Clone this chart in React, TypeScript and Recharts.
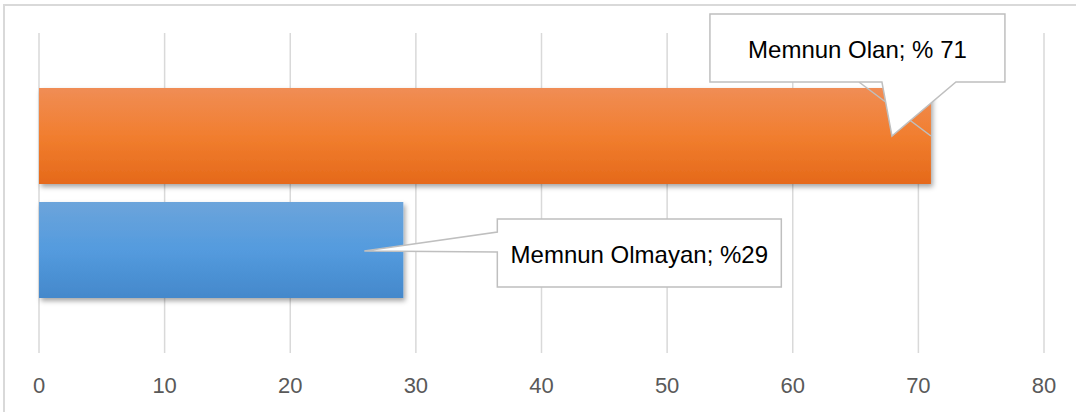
import React from 'react';
import { BarChart, Bar, XAxis, YAxis, CartesianGrid } from 'recharts';

const categories = ['Memnuniyet'];
const memnunOlan = [71];
const memnunOlmayan = [29];
const labelOlan = ['Memnun Olan; % 71'];
const labelOlmayan = ['Memnun Olmayan; %29'];
const xTicks = [0, 10, 20, 30, 40, 50, 60, 70, 80];

const data = categories.map((c, i) => ({
  name: c,
  olan: memnunOlan[i],
  olmayan: memnunOlmayan[i],
}));

const FONT = '"Liberation Sans", Arial, sans-serif';

const TopCallout = (props: any) => {
  const { x, y, width, index } = props;
  const X = x + width;
  const Y = y;
  const bx0 = X - 221, bx1 = X + 74, by0 = Y - 74, by1 = Y - 6;
  const p1 = X - 49, p2 = X + 25;
  const tx = X - 39, ty = Y + 48;
  const d = `M${bx0},${by0} H${bx1} V${by1} H${p2} L${tx},${ty} L${p1},${by1} H${bx0} Z`;
  return (
    <g>
      <line x1={X - 72} y1={by1} x2={X} y2={ty} stroke="#BFBFBF" strokeWidth={1.5} />
      <path d={d} fill="#FFFFFF" stroke="#BFBFBF" strokeWidth={1.5} />
      <text x={(bx0 + bx1) / 2} y={Y - 30} textAnchor="middle" fontFamily={FONT} fontSize={24} fill="#000">
        {labelOlan[index ?? 0]}
      </text>
    </g>
  );
};

const SideCallout = (props: any) => {
  const { x, y, width, height, index } = props;
  const X = x + width;
  const cy = y + height / 2;
  const bx0 = X + 94, bx1 = X + 378, by0 = cy - 31, by1 = cy + 37;
  const tx = X - 39, ty = cy + 1;
  const d = `M${bx0},${by0} H${bx1} V${by1} H${bx0} V${cy + 2} L${tx},${ty} L${bx0},${cy - 18} Z`;
  return (
    <g>
      <path d={d} fill="#FFFFFF" stroke="#BFBFBF" strokeWidth={1.5} />
      <text x={(bx0 + bx1) / 2} y={cy + 13} textAnchor="middle" fontFamily={FONT} fontSize={24} fill="#000">
        {labelOlmayan[index ?? 0]}
      </text>
    </g>
  );
};

export default function App() {
  return (
    <div style={{ position: 'fixed', left: 0, top: 0, width: 1076, height: 412, overflow: 'hidden', background: '#FFFFFF' }}>
      <div
        style={{
          position: 'absolute',
          left: 3,
          top: 4,
          width: 1200,
          height: 600,
          borderLeft: '2px solid #D9D9D9',
          borderTop: '2px solid #D9D9D9',
          boxSizing: 'border-box',
        }}
      />
      <div style={{ position: 'absolute', left: 0, top: 0 }}>
        <BarChart
          width={1076}
          height={412}
          data={data}
          layout="vertical"
          margin={{ top: 33, right: 32, bottom: 0, left: 39 }}
          barSize={96}
          barGap={18}
          barCategoryGap={0}
        >
          <defs>
            <linearGradient id="gOrange" x1="0" y1="0" x2="0" y2="1">
              <stop offset="0%" stopColor="#F08D55" />
              <stop offset="50%" stopColor="#F17E2F" />
              <stop offset="100%" stopColor="#E5691A" />
            </linearGradient>
            <linearGradient id="gBlue" x1="0" y1="0" x2="0" y2="1">
              <stop offset="0%" stopColor="#6CA4DB" />
              <stop offset="50%" stopColor="#549BDE" />
              <stop offset="100%" stopColor="#4488CB" />
            </linearGradient>
            <filter id="shadow" x="-5%" y="-20%" width="115%" height="150%">
              <feDropShadow dx="2" dy="3" stdDeviation="2.5" floodColor="#000" floodOpacity="0.35" />
            </filter>
          </defs>
          <CartesianGrid horizontal={false} stroke="#D9D9D9" strokeWidth={1.5} />
          <XAxis
            type="number"
            domain={[0, 80]}
            ticks={xTicks}
            tickLine={false}
            axisLine={false}
            tickSize={0}
            tickMargin={24}
            height={59}
            tick={{ fill: '#595959', fontSize: 22, fontFamily: FONT }}
            interval={0}
          />
          <YAxis type="category" dataKey="name" hide width={0} />
          <Bar
            dataKey="olan"
            name="Memnun Olan"
            fill="url(#gOrange)"
            filter="url(#shadow)"
            isAnimationActive={false}
            label={(p: any) => <TopCallout {...p} />}
          />
          <Bar
            dataKey="olmayan"
            name="Memnun Olmayan"
            fill="url(#gBlue)"
            filter="url(#shadow)"
            isAnimationActive={false}
            label={(p: any) => <SideCallout {...p} />}
          />
        </BarChart>
      </div>
    </div>
  );
}
